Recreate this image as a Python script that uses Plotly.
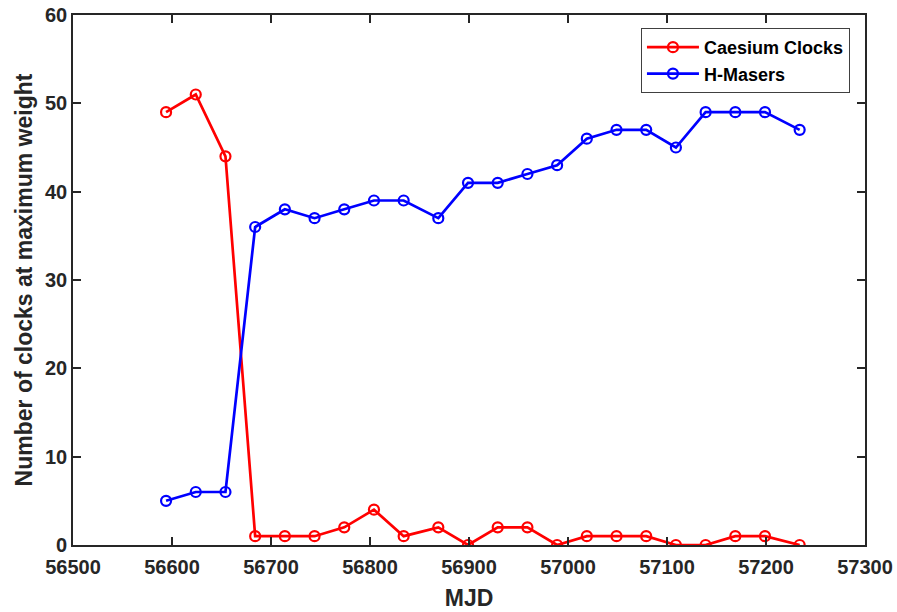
import plotly.graph_objects as go

# Monthly MJD epochs and number of clocks at maximum weight
mjd = [56594, 56624, 56654, 56684, 56714, 56744, 56774, 56804, 56834, 56869, 56899,
       56929, 56959, 56989, 57019, 57049, 57079, 57109, 57139, 57169, 57199, 57234]
caesium = [49, 51, 44, 1, 1, 1, 2, 4, 1, 2, 0, 2, 2, 0, 1, 1, 1, 0, 0, 1, 1, 0]
hmasers = [5, 6, 6, 36, 38, 37, 38, 39, 39, 37, 41, 41, 42, 43, 46, 47, 47, 45, 49, 49, 49, 47]

x_ticks = [56500, 56600, 56700, 56800, 56900, 57000, 57100, 57200, 57300]
y_ticks = [0, 10, 20, 30, 40, 50, 60]

font_family = "Liberation Sans, Arial, sans-serif"
axis_color = "#262626"

fig = go.Figure()
for name, vals, color in [("Caesium Clocks", caesium, "#FF0000"),
                          ("H-Masers", hmasers, "#0000FF")]:
    fig.add_trace(go.Scatter(
        x=mjd, y=vals, name=name, mode="lines+markers",
        line=dict(color=color, width=2.7),
        marker=dict(symbol="circle-open", size=10, color=color,
                    line=dict(width=2.2, color=color)),
    ))

axis_common = dict(
    showline=True, linecolor=axis_color, linewidth=1.6, mirror="ticks",
    ticks="inside", ticklen=8, tickwidth=1.5, tickcolor=axis_color,
    showgrid=False, zeroline=False, automargin=False,
    tickfont=dict(family=font_family, size=20, color=axis_color, weight="bold"),
)

fig.update_xaxes(range=[56500, 57300], tickvals=x_ticks,
                 ticktext=[str(v) for v in x_ticks], ticklabelstandoff=3,
                 title=dict(text="MJD", standoff=13,
                            font=dict(family=font_family, size=23, color=axis_color, weight="bold")),
                 **axis_common)
fig.update_yaxes(range=[0, 60], tickvals=y_ticks,
                 ticktext=[str(v) for v in y_ticks],
                 title=dict(text="Number of clocks at maximum weight", standoff=6,
                            font=dict(family=font_family, size=23, color=axis_color, weight="bold")),
                 **axis_common)

fig.update_layout(
    width=897, height=612,
    margin=dict(l=73, r=32, t=15, b=67),
    paper_bgcolor="white", plot_bgcolor="white",
    showlegend=True,
    legend=dict(x=0.981, y=0.9755, xanchor="right", yanchor="top",
                bgcolor="white", bordercolor="#404040", borderwidth=1,
                font=dict(family=font_family, size=18, color="black", weight="bold"),
                tracegroupgap=0, itemwidth=52),
)

fig.write_html("out.html")
